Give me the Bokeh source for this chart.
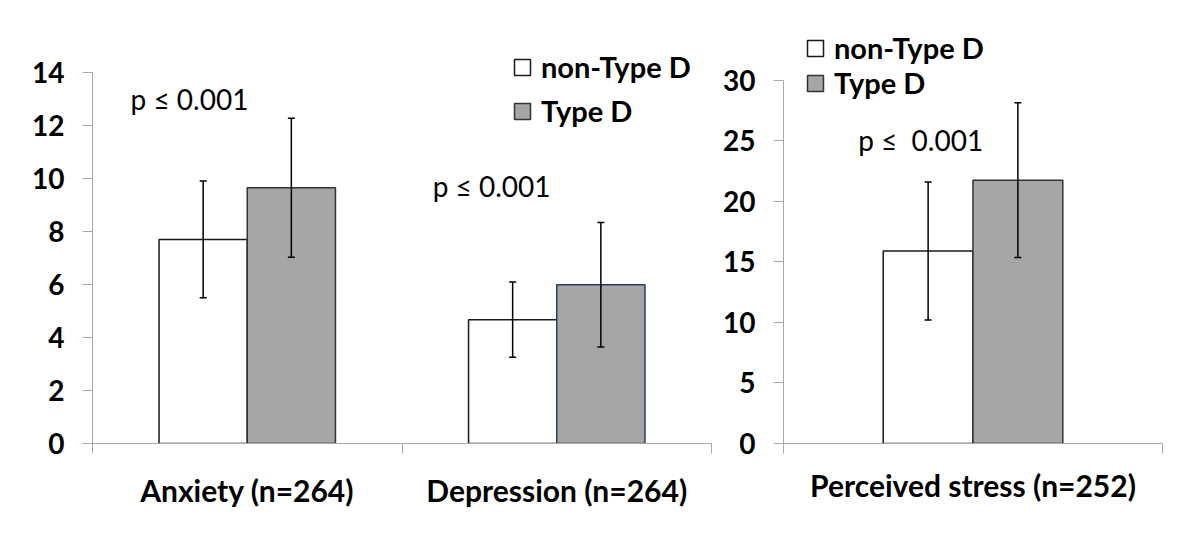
from bokeh.plotting import figure
from bokeh.models import (Range1d, FixedTicker, Whisker, TeeHead, ColumnDataSource,
                          Legend, LegendItem, Label)
from bokeh.layouts import row
from bokeh.embed import file_html
from bokeh.resources import INLINE

# ---------------- data ----------------
categories_left = ["Anxiety (n=264)", "Depression (n=264)"]
non_typeD_left = [7.7, 4.67]
non_typeD_left_sd = [2.2, 1.42]
typeD_left = [9.65, 5.99]
typeD_left_sd = [2.62, 2.35]

categories_right = ["Perceived stress (n=252)"]
non_typeD_right = [15.9]
non_typeD_right_sd = [5.7]
typeD_right = [21.74]
typeD_right_sd = [6.39]

yticks_left = [0, 2, 4, 6, 8, 10, 12, 14]
yticks_right = [0, 5, 10, 15, 20, 25, 30]
series_names = ["non-Type D", "Type D"]
p_text_left = ["p \u2264 0.001", "p \u2264 0.001"]
p_text_right = "p \u2264\u00a0 0.001"

FONT = "Lato"
GRAY = "#A6A6A6"
AXIS_GRAY = "#A8A8A8"


def style(p, yticks, ymax_tick, cats, xstandoff):
    p.outline_line_color = None
    p.xgrid.grid_line_color = None
    p.ygrid.grid_line_color = None
    p.background_fill_color = "white"
    n = len(cats)
    # y axis
    ya = p.yaxis[0]
    ya.ticker = FixedTicker(ticks=yticks)
    ya.bounds = (0, ymax_tick)
    ya.axis_line_color = AXIS_GRAY
    ya.major_tick_line_color = AXIS_GRAY
    ya.major_tick_in = 0
    ya.major_tick_out = 10
    ya.minor_tick_line_color = None
    ya.major_label_text_font = FONT
    ya.major_label_text_font_style = "bold"
    ya.major_label_text_font_size = "28px"
    ya.major_label_text_color = "black"
    ya.major_label_standoff = 18
    # x axis
    xa = p.xaxis[0]
    centers = [i + 0.5 for i in range(n)]
    xa.ticker = FixedTicker(ticks=centers, minor_ticks=list(range(n + 1)))
    xa.major_label_overrides = {c: lab for c, lab in zip(centers, cats)}
    xa.axis_line_color = AXIS_GRAY
    xa.major_tick_line_color = None
    xa.major_tick_in = 0
    xa.major_tick_out = 0
    xa.minor_tick_line_color = AXIS_GRAY
    xa.minor_tick_in = 0
    xa.minor_tick_out = 10
    xa.major_label_text_font = FONT
    xa.major_label_text_font_style = "bold"
    xa.major_label_text_font_size = "30px"
    xa.major_label_text_color = "black"
    xa.major_label_standoff = xstandoff


def bars(p, cats, m1, s1, m2, s2, width, dodge, gray_lines):
    n = len(cats)
    x1 = [i + 0.5 - dodge for i in range(n)]
    x2 = [i + 0.5 + dodge for i in range(n)]
    src1 = ColumnDataSource(dict(x=x1, top=m1, upper=[m + s for m, s in zip(m1, s1)],
                                 lower=[m - s for m, s in zip(m1, s1)]))
    src2 = ColumnDataSource(dict(x=x2, top=m2, upper=[m + s for m, s in zip(m2, s2)],
                                 lower=[m - s for m, s in zip(m2, s2)], lc=gray_lines))
    r1 = p.vbar(x="x", top="top", bottom=0, width=width, source=src1,
                fill_color="white", line_color="#1a1a1a", line_width=1.5)
    r2 = p.vbar(x="x", top="top", bottom=0, width=width, source=src2,
                fill_color=GRAY, line_color="lc", line_width=1.5)
    for s in (src1, src2):
        w = Whisker(base="x", upper="upper", lower="lower", source=s, level="overlay",
                    line_color="black", line_width=1.5,
                    upper_head=TeeHead(size=7, line_width=1.5, line_color="black"),
                    lower_head=TeeHead(size=7, line_width=1.5, line_color="black"))
        p.add_layout(w)
    return r1, r2


def legend(p, r1, r2, loc, spacing):
    lg = Legend(items=[LegendItem(label=series_names[0], renderers=[r1]),
                       LegendItem(label=series_names[1], renderers=[r2])],
                location=loc, orientation="vertical",
                glyph_width=20, glyph_height=20, label_standoff=9,
                label_text_font=FONT, label_text_font_style="bold",
                label_text_font_size="29px", label_text_color="black",
                spacing=spacing, padding=0, margin=0,
                background_fill_alpha=0, border_line_alpha=0)
    p.add_layout(lg)


# ---------------- left figure ----------------
p1 = figure(width=720, height=529, x_range=Range1d(0, 2), y_range=Range1d(0, 15.96),
            output_backend="svg", toolbar_location=None,
            min_border_left=92, min_border_right=9, min_border_top=20, min_border_bottom=82)
style(p1, yticks_left, 14, categories_left, 18)
ra, rb = bars(p1, categories_left, non_typeD_left, non_typeD_left_sd,
              typeD_left, typeD_left_sd, 0.285, 0.1425, ["#333333", "#263f5e"])
legend(p1, ra, rb, (420, 315), 9)
p1.add_layout(Label(x=0.123, y=13.0, text=p_text_left[0], text_baseline="middle",
                    text_font=FONT, text_font_size="28px", text_color="black"))
p1.add_layout(Label(x=1.099, y=9.72, text=p_text_left[1], text_baseline="middle",
                    text_font=FONT, text_font_size="28px", text_color="black"))

# ---------------- right figure ----------------
p2 = figure(width=472, height=529, x_range=Range1d(0, 1), y_range=Range1d(0, 34.93),
            output_backend="svg", toolbar_location=None,
            min_border_left=62, min_border_right=30, min_border_top=20, min_border_bottom=86)
style(p2, yticks_right, 30, categories_right, 13)
rc, rd = bars(p2, categories_right, non_typeD_right, non_typeD_right_sd,
              typeD_right, typeD_right_sd, 0.237, 0.1184, ["#333333"])
legend(p2, rc, rd, (22, 343), -4)
p2.add_layout(Label(x=0.197, y=25.05, text=p_text_right, text_baseline="middle",
                    text_font=FONT, text_font_size="28px", text_color="black"))

layout = row(p1, p2)
open("out.html", "w").write(file_html(layout, INLINE))
